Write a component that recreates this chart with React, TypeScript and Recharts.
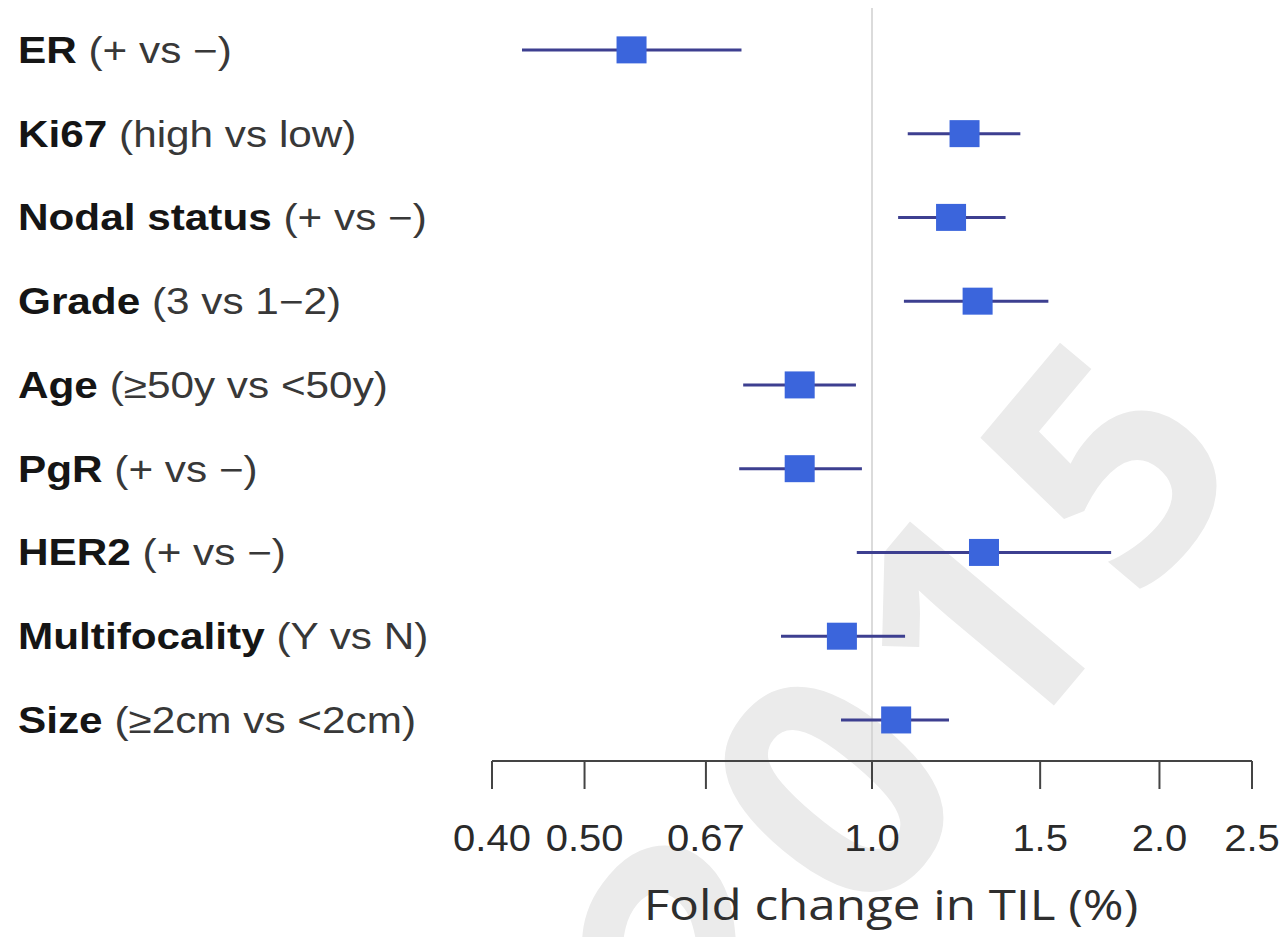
import React from 'react';
import { ScatterChart, Scatter, XAxis, YAxis, ErrorBar, ReferenceLine } from 'recharts';

const labelsBold = ['ER', 'Ki67', 'Nodal status', 'Grade', 'Age', 'PgR', 'HER2', 'Multifocality', 'Size'];
const labelsRest = ['(+ vs −)', '(high vs low)', '(+ vs −)', '(3 vs 1−2)', '(≥50y vs <50y)', '(+ vs −)', '(+ vs −)', '(Y vs N)', '(≥2cm vs <2cm)'];
const estimates = [0.56, 1.25, 1.21, 1.29, 0.84, 0.84, 1.31, 0.93, 1.06];
const lowerCI = [0.43, 1.09, 1.065, 1.08, 0.733, 0.726, 0.964, 0.803, 0.928];
const upperCI = [0.73, 1.43, 1.38, 1.53, 0.962, 0.976, 1.78, 1.083, 1.204];
const xTicks = [0.4, 0.5, 0.67, 1, 1.5, 2, 2.5];
const xTickLabels = ['0.40', '0.50', '0.67', '1.0', '1.5', '2.0', '2.5'];
const xTitle = 'Fold change in TIL (%)';
const watermark = '2015';

const rowIdx = labelsBold.map((_, i) => i);
const data = estimates.map((est, i) => ({
  row: i,
  est,
  err: [est - lowerCI[i], upperCI[i] - est],
}));

const STRETCH = 1.175;

const XTick = (props: any) => {
  const { x, y, payload } = props;
  const i = xTicks.indexOf(payload.value);
  const label = i >= 0 ? xTickLabels[i] : String(payload.value);
  return (
    <text
      transform={`translate(${x},${y + 60}) scale(1.08,1)`}
      textAnchor="middle"
      fontSize={37}
      fontFamily="'Liberation Sans', Arial, sans-serif"
      fill="#2a2a2a"
    >
      {label}
    </text>
  );
};

const YTick = (props: any) => {
  const { y, payload } = props;
  const i = payload.value;
  return (
    <text
      transform={`translate(18,${y + 13}) scale(${STRETCH},1)`}
      textAnchor="start"
      fontSize={36}
      fontFamily="'Liberation Sans', Arial, sans-serif"
      style={{ whiteSpace: 'pre' }}
    >
      <tspan fontWeight="bold" fill="#151515">{labelsBold[i]}</tspan>
      <tspan fill="#383838">{' ' + labelsRest[i]}</tspan>
    </text>
  );
};

const TitleLabel = (props: any) => {
  const vb = props.viewBox || { x: 492, y: 761, width: 760, height: 176 };
  return (
    <text
      transform={`translate(${vb.x + vb.width / 2 + 19},${vb.y + 159}) scale(${STRETCH},1)`}
      textAnchor="middle"
      fontSize={42}
      fontFamily="'Open Sans', 'Noto Sans', sans-serif"
      fill="#2e2e2e"
    >
      {xTitle}
    </text>
  );
};

const SquareShape = (props: any) => {
  const { cx, cy } = props;
  if (cx == null || cy == null) return null;
  const w = 30;
  const h = 27;
  return <rect x={cx - w / 2} y={cy - h / 2} width={w} height={h} fill="#3b65dc" />;
};

export default function App() {
  return (
    <div style={{ position: 'absolute', left: 0, top: 0, width: 1287, height: 937, background: '#fff', overflow: 'hidden' }}>
      <svg width={1287} height={937} style={{ position: 'absolute', left: 0, top: 0 }}>
        <text
          transform="translate(905,690) rotate(-50)"
          textAnchor="middle"
          dominantBaseline="central"
          fontSize={320}
          fontWeight="bold"
          fontFamily="'Open Sans', 'Liberation Sans', sans-serif"
          letterSpacing={30}
          fill="#ebebeb"
        >
          {watermark}
        </text>
      </svg>
      <div style={{ position: 'absolute', left: 0, top: 0 }}>
        <ScatterChart width={1287} height={937} margin={{ top: 8, right: 35, bottom: 0, left: 18 }}>
          <XAxis
            dataKey="est"
            type="number"
            scale="log"
            domain={[0.4, 2.5]}
            ticks={xTicks}
            interval={0}
            allowDataOverflow
            height={176}
            tickSize={28}
            axisLine={{ stroke: '#444', strokeWidth: 2 }}
            tickLine={{ stroke: '#444', strokeWidth: 2 }}
            tick={<XTick />}
            label={TitleLabel}
          />
          <YAxis
            dataKey="row"
            type="number"
            domain={[-0.5, 8.49]}
            reversed
            ticks={rowIdx}
            interval={0}
            width={474}
            axisLine={false}
            tickLine={false}
            tick={<YTick />}
          />
          <ReferenceLine x={1} stroke="#cfcfcf" strokeWidth={1.5} />
          <Scatter data={data} shape={SquareShape} isAnimationActive={false}>
            <ErrorBar dataKey="err" direction="x" width={0} stroke="#3d3f90" strokeWidth={3} />
          </Scatter>
        </ScatterChart>
      </div>
    </div>
  );
}
